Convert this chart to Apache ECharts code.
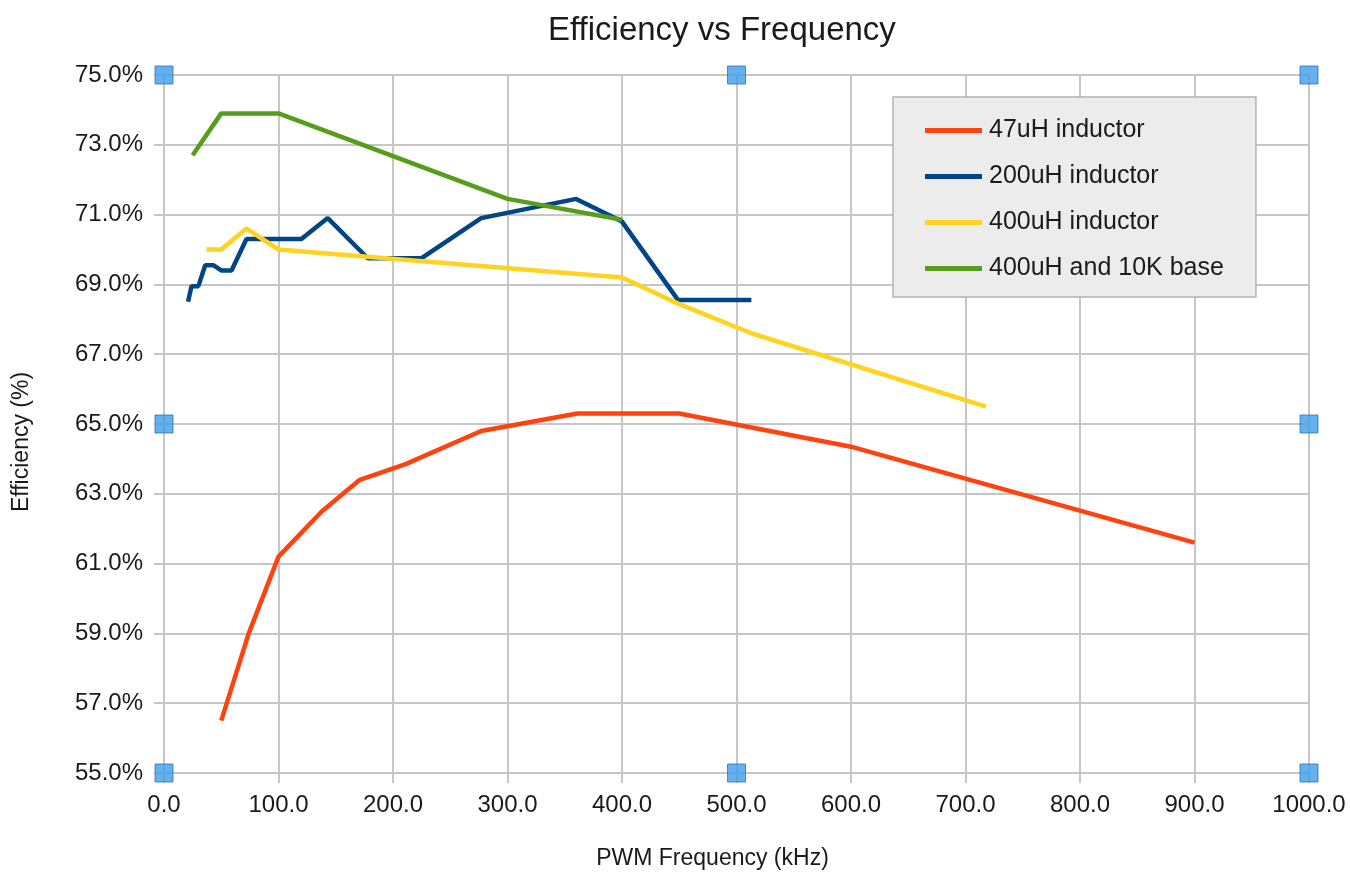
<!DOCTYPE html>
<html>
<head>
<meta charset="utf-8">
<script src="https://cdn.jsdelivr.net/npm/echarts@6/dist/echarts.min.js"></script>
<style>html,body{margin:0;padding:0;background:#fff}#c{width:1350px;height:872px}</style>
</head>
<body>
<div id="c"></div>
<script>
const seriesNames = ['47uH inductor', '200uH inductor', '400uH inductor', '400uH and 10K base'];
const seriesColors = ['#ff420e', '#004586', '#ffd320', '#579d1c'];
const data47uH = [[50,56.5],[74,59.0],[100,61.2],[138,62.5],[171,63.4],[211,63.85],[277,64.8],[361,65.3],[450,65.3],[600,64.35],[900,61.6]];
const data200uH = [[21,68.5],[24,68.95],[30,68.95],[36,69.55],[43,69.55],[50,69.4],[59,69.4],[72,70.3],[120,70.3],[143,70.9],[178,69.75],[225,69.75],[277,70.9],[360,71.45],[400,70.8],[449,68.55],[513,68.55]];
const data400uH = [[37,70.0],[50,70.0],[72,70.6],[100,70.0],[400,69.2],[449,68.45],[513,67.6],[718,65.5]];
const data400uH10K = [[25,72.7],[50,73.9],[100,73.9],[300,71.45],[400,70.85]];
const handlePoints = [[0,75],[500,75],[1000,75],[0,65],[1000,65],[0,55],[500,55],[1000,55]];
const xTicks = {min: 0, max: 1000, interval: 100};
const yTicks = {min: 55, max: 75, interval: 2};

const allData = [data47uH, data200uH, data400uH, data400uH10K];
const font = 'Liberation Sans';
const chart = echarts.init(document.getElementById('c'), null, {renderer: 'canvas'});
const series = allData.map((d, i) => ({
  name: seriesNames[i], type: 'line', data: d, showSymbol: false, symbol: 'none',
  lineStyle: {width: 4.5, color: seriesColors[i]}, itemStyle: {color: seriesColors[i]},
  animation: false, z: 3
}));
series.push({
  name: 'handles', type: 'scatter', data: handlePoints, symbol: 'rect', symbolSize: 18,
  itemStyle: {color: '#3f9eea', borderColor: '#2f72bd', borderWidth: 1}, z: 10, animation: false, silent: true
});
chart.setOption({
  backgroundColor: '#ffffff',
  animation: false,
  title: {text: 'Efficiency vs Frequency', left: 543, top: 9,
    textStyle: {fontFamily: font, fontSize: 33, fontWeight: 'normal', color: '#1a1a1a'}},
  legend: {
    data: seriesNames, orient: 'vertical', left: 893, top: 97,
    padding: [21, 32, 16, 32], itemGap: 21, itemWidth: 57, itemHeight: 5, icon: 'rect',
    backgroundColor: '#ececec', borderColor: '#b3b3b3', borderWidth: 1.5,
    textStyle: {fontFamily: font, fontSize: 25, color: '#1a1a1a', padding: [0,0,0,2]}
  },
  grid: {left: 164, right: 41, top: 75, bottom: 99, containLabel: false, outerBoundsMode: 'none'},
  xAxis: {
    type: 'value', min: xTicks.min, max: xTicks.max, interval: xTicks.interval,
    name: 'PWM Frequency (kHz)', nameLocation: 'middle', nameGap: 74,
    nameTextStyle: {fontFamily: font, fontSize: 23, color: '#1a1a1a', padding: [0, 48, 0, 0]},
    axisLine: {show: true, lineStyle: {color: '#c6c6c6', width: 2}},
    axisTick: {show: true, length: 10, lineStyle: {color: '#c6c6c6', width: 2}},
    splitLine: {show: true, lineStyle: {color: '#c6c6c6', width: 2}},
    axisLabel: {fontFamily: font, fontSize: 24, color: '#1a1a1a', margin: 20, formatter: v => v.toFixed(1)}
  },
  yAxis: {
    type: 'value', min: yTicks.min, max: yTicks.max, interval: yTicks.interval,
    name: 'Efficiency (%)', nameLocation: 'middle', nameGap: 131, nameRotate: 90,
    nameTextStyle: {fontFamily: font, fontSize: 23, color: '#1a1a1a', padding: [0, 36, 0, 0]},
    axisLine: {show: true, lineStyle: {color: '#c6c6c6', width: 2}},
    axisTick: {show: true, length: 10, lineStyle: {color: '#c6c6c6', width: 2}},
    splitLine: {show: true, lineStyle: {color: '#c6c6c6', width: 2}},
    axisLabel: {fontFamily: font, fontSize: 24, color: '#1a1a1a', margin: 21, formatter: v => v.toFixed(1) + '%'}
  },
  series: series
});
</script>
</body>
</html>
